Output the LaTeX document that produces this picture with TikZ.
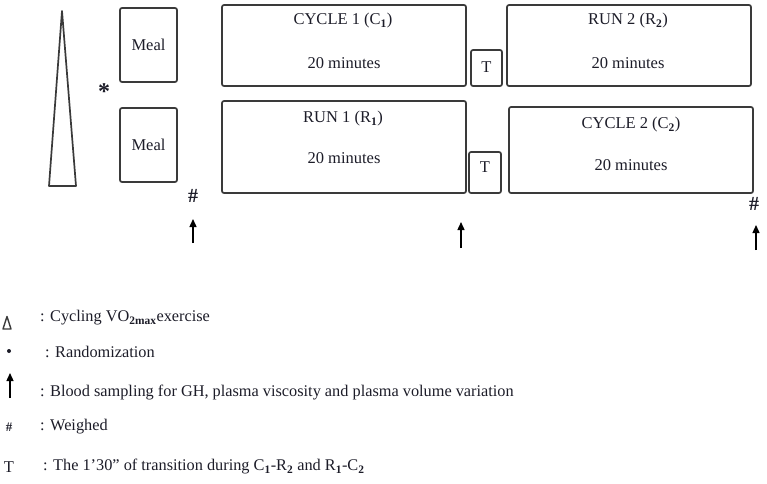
\documentclass[tikz,border=0pt]{standalone}
\usepackage{fontspec}
\setmainfont{Liberation Serif}
\usetikzlibrary{arrows.meta}
\definecolor{edge}{HTML}{3A3A3A}
\definecolor{ink}{HTML}{1C1C28}
\begin{document}
\begin{tikzpicture}[x=1pt,y=-1pt,
  box/.style={draw=edge,line width=1.7pt,rounded corners=2pt,inner sep=0pt},
  lbl/.style={text=ink,font=\fontsize{16.5}{18}\selectfont,inner sep=0pt},
  leg/.style={text=ink,font=\fontsize{16.3}{18}\selectfont,inner sep=0pt,anchor=west},
  sampl/.style={draw=black,line width=1.4pt,-{Triangle[length=8pt,width=7pt]}}]
\useasboundingbox (0,0) rectangle (767,483);
% triangle
\draw[draw=edge,line width=1.7pt,line join=round] (62,11) -- (76,186) -- (49,186) -- cycle;
% boxes
\node[box,minimum width=57pt,minimum height=74pt] (meal1) at (148.5,45) {};
\node[box,minimum width=57pt,minimum height=74pt] (meal2) at (148.5,145) {};
\node[box,minimum width=244pt,minimum height=81pt] (c1) at (344,45.5) {};
\node[box,minimum width=31pt,minimum height=36pt] (t1) at (486.5,68) {};
\node[box,minimum width=244pt,minimum height=81pt] (r2) at (629,45.5) {};
\node[box,minimum width=244pt,minimum height=92pt] (r1) at (344,147) {};
\node[box,minimum width=32pt,minimum height=41pt] (t2) at (485,172.5) {};
\node[box,minimum width=244pt,minimum height=86pt] (c2) at (631,150) {};
% texts
\node[lbl] (meal1t) at (148.5,45) {Meal};
\node[lbl] (meal2t) at (148.5,145) {Meal};
\node[lbl] (c1a) at (343,21) {CYCLE 1 (C\textsubscript{\textbf{1}})};
\node[lbl] (c1b) at (344,63) {20 minutes};
\node[lbl] (t1t) at (486.5,67) {T};
\node[lbl] (r2a) at (628,21) {RUN 2 (R\textsubscript{\textbf{2}})};
\node[lbl] (r2b) at (628,63) {20 minutes};
\node[lbl] (r1a) at (343,119) {RUN 1 (R\textsubscript{\textbf{1}})};
\node[lbl] (r1b) at (344,158) {20 minutes};
\node[lbl] (t2t) at (485,167) {T};
\node[lbl] (c2a) at (631,125) {CYCLE 2 (C\textsubscript{\textbf{2}})};
\node[lbl] (c2b) at (631,165) {20 minutes};
\node[lbl,font=\bfseries\fontsize{24}{24}\selectfont] (star) at (104,92) {*};
\node[lbl,font=\bfseries\fontsize{20}{20}\selectfont] (h1) at (193,196) {\#};
\node[lbl,font=\bfseries\fontsize{20}{20}\selectfont] (h2) at (754,204) {\#};
% sampling arrows
\coordinate (a1s) at (193,243); \coordinate (a1e) at (193,219);
\coordinate (a2s) at (461,248); \coordinate (a2e) at (461,222);
\coordinate (a3s) at (756,250); \coordinate (a3e) at (756,225);
\draw[sampl] (a1s) -- (a1e);
\draw[sampl] (a2s) -- (a2e);
\draw[sampl] (a3s) -- (a3e);
% legend
\draw[draw=edge,line width=1.4pt,line join=round] (7,316.5) -- (11,329) -- (3,329) -- cycle;
\node[leg] (l1) at (40,318) {: Cycling VO\textsubscript{\textbf{2max}}exercise};
\fill[ink] (9,351) circle (2pt);
\node[leg] (l2) at (45,352) {: Randomization};
\coordinate (las) at (10,398); \coordinate (lae) at (10,373);
\draw[sampl] (las) -- (lae);
\node[leg] (l3) at (40,393) {: Blood sampling for GH, plasma viscosity and plasma volume variation};
\node[lbl,font=\bfseries\fontsize{13}{13}\selectfont] (lh) at (9,427) {\#};
\node[leg] (l4) at (40,427) {: Weighed};
\node[lbl] (lt) at (9,467) {T};
\node[leg] (l5) at (43,467) {: The 1'30" of transition during C\textsubscript{\textbf{1}}-R\textsubscript{\textbf{2}} and R\textsubscript{\textbf{1}}-C\textsubscript{\textbf{2}}};
\end{tikzpicture}
\end{document}
